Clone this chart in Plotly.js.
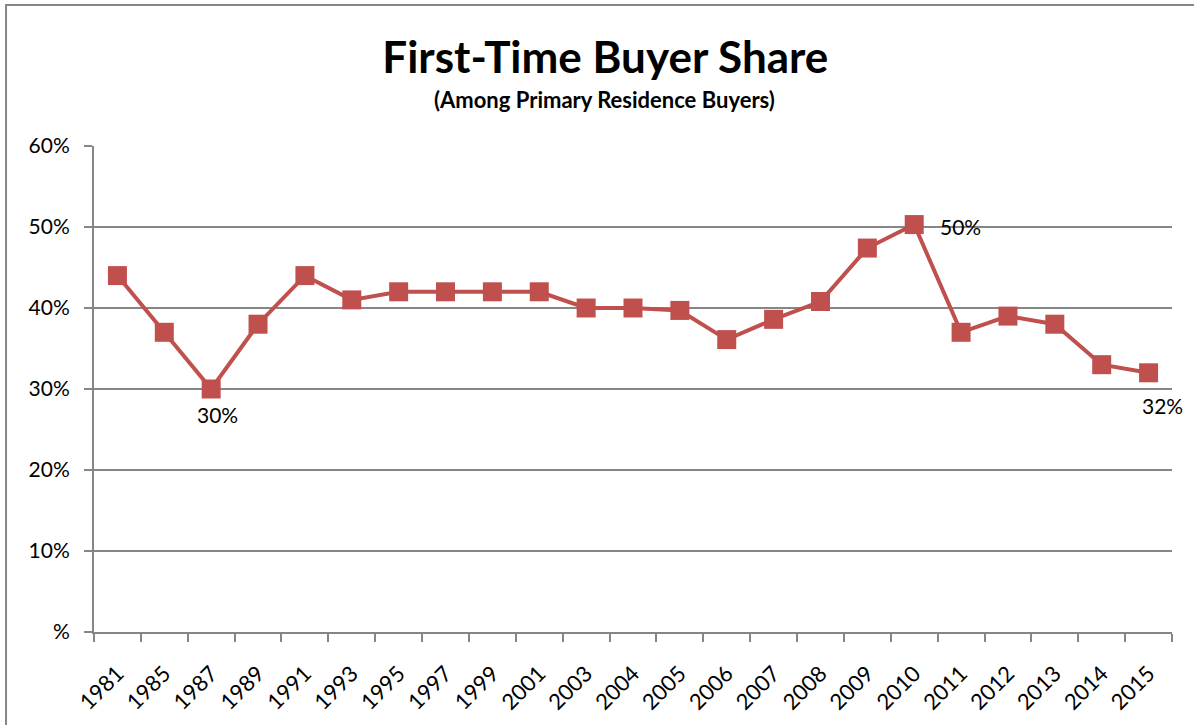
<!DOCTYPE html>
<html>
<head>
<meta charset="utf-8">
<script src="https://cdn.plot.ly/plotly-3.0.1.min.js"></script>
<style>
  html, body { margin: 0; padding: 0; background: #fff; }
  #chart { width: 1194px; height: 725px; }
</style>
</head>
<body>
<div id="chart"></div>
<script>
const years = ["1981","1985","1987","1989","1991","1993","1995","1997","1999","2001","2003","2004","2005","2006","2007","2008","2009","2010","2011","2012","2013","2014","2015"];
const share = [44, 37, 30, 38, 44, 41, 42, 42, 42, 42, 40, 40, 39.7, 36.1, 38.6, 40.8, 47.4, 50.3, 37, 39, 38, 33, 32];
const yTickVals = [0, 10, 20, 30, 40, 50, 60];
const yTickText = ["%", "10%", "20%", "30%", "40%", "50%", "60%"];
const labelYears = ["1987", "2010", "2015"];
const labelTexts = ["30%", "50%", "32%"];

const lineColor = "#C0504D";
const font = "Lato, 'Open Sans', 'Liberation Sans', sans-serif";

const labelStyles = {
  "1987": {xshift: 6, yshift: -25, xanchor: "center"},
  "2010": {xshift: 24, yshift: -2, xanchor: "left"},
  "2015": {xshift: 14, yshift: -33, xanchor: "center"}
};

const annotations = labelYears.map((yr, i) => {
  const idx = years.indexOf(yr);
  const s = labelStyles[yr];
  return {
    x: idx, y: share[idx], xref: "x", yref: "y",
    text: labelTexts[i], showarrow: false,
    xanchor: s.xanchor, yanchor: "middle",
    xshift: s.xshift, yshift: s.yshift,
    font: {family: font, size: 21, color: "#000"}
  };
});

annotations.push({
  xref: "paper", yref: "paper", x: 0.474, y: 1.095,
  text: "<b>(Among Primary Residence Buyers)</b>", showarrow: false,
  xanchor: "center", yanchor: "middle",
  font: {family: font, size: 22, color: "#000"}
});

const trace = {
  x: years, y: share, type: "scatter", mode: "lines+markers",
  line: {color: lineColor, width: 4},
  marker: {symbol: "square", size: 19, color: lineColor},
  hoverinfo: "x+y"
};

const layout = {
  width: 1194, height: 725,
  margin: {l: 94, r: 22, t: 146, b: 93},
  paper_bgcolor: "#fff", plot_bgcolor: "#fff",
  showlegend: false,
  title: {
    text: "<b>First-Time Buyer Share</b>",
    x: 0.507, xanchor: "center", y: 0.921, yanchor: "middle",
    font: {family: font, size: 44, color: "#000"}
  },
  xaxis: {
    type: "category", range: [-0.5, 22.5],
    showgrid: false, showline: true, linecolor: "#868686", linewidth: 2,
    ticks: "outside", tickson: "boundaries", ticklen: 8, tickcolor: "#868686", tickwidth: 2,
    tickangle: -45, tickfont: {family: font, size: 22, color: "#000"},
    ticklabelstandoff: 18,
    zeroline: false, fixedrange: true
  },
  yaxis: {
    range: [0, 60], tickvals: yTickVals, ticktext: yTickText,
    showgrid: true, gridcolor: "#868686", gridwidth: 2,
    showline: true, linecolor: "#868686", linewidth: 2,
    ticks: "outside", ticklen: 8, tickcolor: "#868686", tickwidth: 2,
    tickfont: {family: font, size: 21, color: "#000"},
    ticklabelstandoff: 10,
    zeroline: false, fixedrange: true
  },
  annotations: annotations,
  shapes: [{
    type: "rect", xref: "paper", yref: "paper",
    x0: -0.0816, x1: 1.5, y0: -1, y1: 1.29,
    line: {color: "#868686", width: 2}, fillcolor: "rgba(0,0,0,0)", layer: "below"
  }]
};

Plotly.newPlot("chart", [trace], layout, {displayModeBar: false, staticPlot: true});
</script>
</body>
</html>
